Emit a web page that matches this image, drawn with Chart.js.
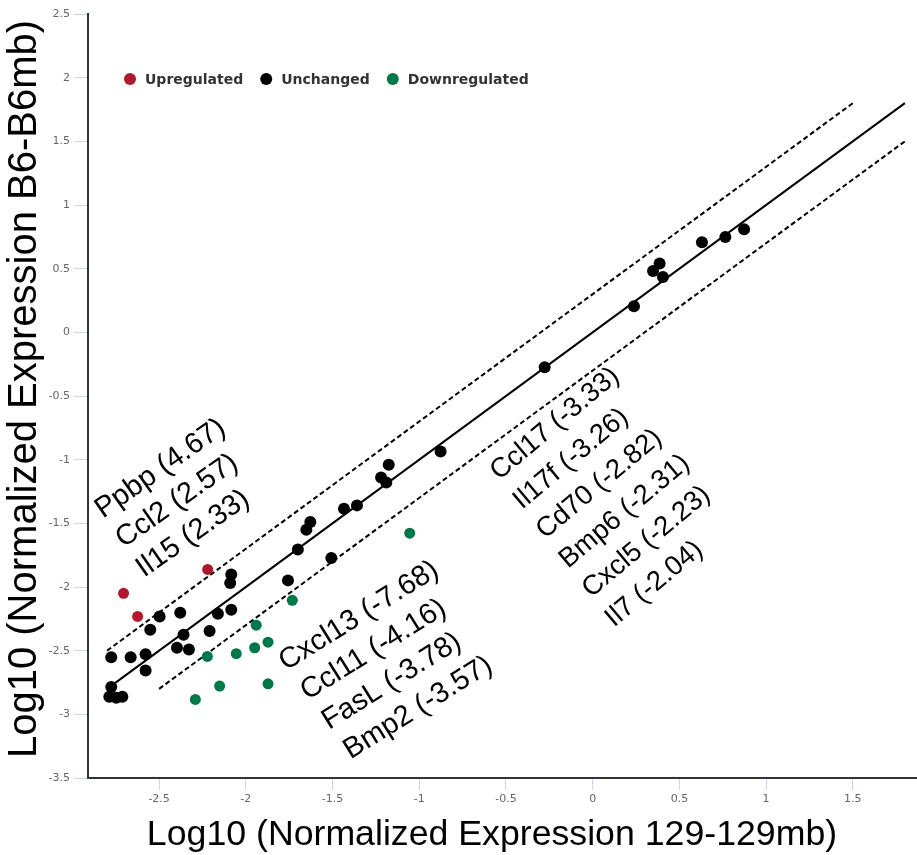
<!DOCTYPE html>
<html>
<head>
<meta charset="utf-8">
<title>Expression scatter</title>
<script src="https://cdn.jsdelivr.net/npm/chart.js@4.4.1/dist/chart.umd.min.js"></script>
<style>
  html, body { margin: 0; padding: 0; background: #fff; }
  canvas { display: block; }
</style>
</head>
<body>
<canvas id="exprChart" width="917" height="855"></canvas>
<script>
/* =========================
   Data (log10 normalized expression)
   x = 129-129mb, y = B6-B6mb
   ========================= */

const upX = [-2.705, -2.624, -2.220];
const upY = [-2.050, -2.231, -1.862];

const unchangedX = [-2.776, -2.664, -2.578, -2.578, -2.776, -2.787, -2.747, -2.712,
    -2.551, -2.497, -2.378, -2.359, -2.397, -2.328, -2.209, -2.161, -2.084, -2.090,
    -2.084, -1.757, -1.700, -1.651, -1.628, -1.507, -1.434, -1.359, -1.220, -1.190,
    -1.176, -0.877, -0.277, 0.238, 0.348, 0.386, 0.405, 0.630, 0.765, 0.873];
const unchangedY = [-2.551, -2.551, -2.529, -2.655, -2.786, -2.862, -2.870, -2.862,
    -2.336, -2.231, -2.202, -2.375, -2.477, -2.490, -2.346, -2.210, -2.178, -1.969,
    -1.901, -1.948, -1.705, -1.550, -1.490, -1.773, -1.385, -1.359, -1.140, -1.180,
    -1.040, -0.935, -0.275, 0.204, 0.482, 0.540, 0.435, 0.707, 0.749, 0.809];

const downX = [-1.055, -1.732, -1.940, -1.872, -1.949, -2.055, -2.222, -2.151, -1.872, -2.291];
const downY = [-1.577, -2.105, -2.300, -2.433, -2.477, -2.524, -2.545, -2.778, -2.760, -2.883];

// y = x identity line and the 2-fold (log10 2) bounds
const diagX = [-2.8, 1.8];
const diagY = [-2.8, 1.8];
const upperBoundX = [-2.8, 1.5];
const upperBoundY = [-2.5, 1.8];
const lowerBoundX = [-2.5, 1.8];
const lowerBoundY = [-2.8, 1.5];

const xTicks = [-2.5, -2, -1.5, -1, -0.5, 0, 0.5, 1, 1.5];
const yTicks = [-3.5, -3, -2.5, -2, -1.5, -1, -0.5, 0, 0.5, 1, 1.5, 2, 2.5];

const legendNames = ['Upregulated', 'Unchanged', 'Downregulated'];
const xTitle = 'Log10 (Normalized Expression 129-129mb)';
const yTitle = 'Log10 (Normalized Expression B6-B6mb)';

// fold changes written next to the plot
const upLabels = ['Ppbp (4.67)', 'Ccl2 (2.57)', 'Il15 (2.33)'];
const downLabelsA = ['Cxcl13 (-7.68)', 'Ccl11 (-4.16)', 'FasL (-3.78)', 'Bmp2 (-3.57)'];
const downLabelsB = ['Ccl17 (-3.33)', 'Il17f (-3.26)', 'Cd70 (-2.82)', 'Bmp6 (-2.31)', 'Cxcl5 (-2.23)', 'Il7 (-2.04)'];

/* =========================
   Helpers
   ========================= */

const RED = '#b2182b';
const BLACK = '#000000';
const GREEN = '#00784a';

function toPoints(xs, ys) {
    return xs.map((x, i) => ({ x: x, y: ys[i] }));
}

function lineSet(xs, ys, dashed) {
    return {
        type: 'line',
        data: toPoints(xs, ys),
        borderColor: '#000',
        borderWidth: 2,
        borderDash: dashed ? [5, 3] : [],
        pointRadius: 0,
        fill: false,
        order: 5
    };
}

// legend drawn inside the plot area, like the original
const innerLegend = {
    id: 'innerLegend',
    afterDraw(chart) {
        const ctx = chart.ctx;
        const colors = [RED, BLACK, GREEN];
        let x = chart.chartArea.left + 42;
        const y = chart.chartArea.top + 65;
        ctx.save();
        ctx.font = 'bold 14px "DejaVu Sans"';
        ctx.textBaseline = 'middle';
        legendNames.forEach((name, i) => {
            ctx.fillStyle = colors[i];
            ctx.beginPath();
            ctx.arc(x, y, 6, 0, Math.PI * 2);
            ctx.fill();
            ctx.fillStyle = '#333';
            ctx.fillText(name, x + 15, y + 1);
            x += 15 + ctx.measureText(name).width + 23;
        });
        ctx.restore();
    }
};

// big axis titles, placed a little off-centre as in the original figure
const axisTitles = {
    id: 'axisTitles',
    afterDraw(chart) {
        const ctx = chart.ctx;
        ctx.save();
        ctx.fillStyle = '#000';
        ctx.textAlign = 'center';
        ctx.textBaseline = 'middle';
        ctx.font = '35.7px "Liberation Sans"';
        ctx.fillText(xTitle, 492, 835);
        ctx.translate(25, 389);
        ctx.rotate(-Math.PI / 2);
        ctx.font = '40px "Liberation Sans"';
        ctx.fillText(yTitle, 0, 0);
        ctx.restore();
    }
};

// rotated gene labels, anchored in data coordinates
const geneLabels = {
    id: 'geneLabels',
    afterDatasetsDraw(chart) {
        const groups = [
            { lines: upLabels, x: -2.824, y: -1.464, angle: 35, size: 29, step: [20.6, 29.5] },
            { lines: downLabelsA, x: -1.768, y: -2.66, angle: 32, size: 29, step: [21.5, 29.5] },
            { lines: downLabelsB, x: -0.54, y: -1.165, angle: 40, size: 27.5, step: [23, 29.4] }
        ];
        const ctx = chart.ctx;
        ctx.save();
        ctx.fillStyle = '#000';
        ctx.textBaseline = 'alphabetic';
        groups.forEach(g => {
            const px = chart.scales.x.getPixelForValue(g.x);
            const py = chart.scales.y.getPixelForValue(g.y);
            ctx.font = g.size + 'px "Liberation Sans"';
            g.lines.forEach((t, i) => {
                ctx.save();
                ctx.translate(px + i * g.step[0], py + i * g.step[1]);
                ctx.rotate(-g.angle * Math.PI / 180);
                ctx.fillText(t, 0, 0);
                ctx.restore();
            });
        });
        ctx.restore();
    }
};

/* =========================
   Chart
   ========================= */

const tickFont = { family: 'DejaVu Sans', size: 11 };

new Chart(document.getElementById('exprChart'), {
    type: 'scatter',
    data: {
        datasets: [
            { label: legendNames[0], data: toPoints(upX, upY), backgroundColor: RED, pointRadius: 5.5, borderWidth: 0, order: 1 },
            { label: legendNames[1], data: toPoints(unchangedX, unchangedY), backgroundColor: BLACK, pointRadius: 6, borderWidth: 0, order: 1 },
            { label: legendNames[2], data: toPoints(downX, downY), backgroundColor: GREEN, pointRadius: 5.5, borderWidth: 0, order: 1 },
            lineSet(diagX, diagY, false),
            lineSet(upperBoundX, upperBoundY, true),
            lineSet(lowerBoundX, lowerBoundY, true)
        ]
    },
    options: {
        responsive: false,
        animation: false,
        layout: { autoPadding: false, padding: { top: 14, right: 0, left: 0, bottom: 0 } },
        plugins: {
            legend: { display: false },
            tooltip: { enabled: false }
        },
        scales: {
            x: {
                type: 'linear',
                min: -2.91,
                max: 1.87,
                afterBuildTicks: s => { s.ticks = xTicks.map(v => ({ value: v })); },
                afterFit: s => { s.height = 77; },
                grid: { drawOnChartArea: false, drawTicks: true, tickLength: 12, color: '#ccd6eb' },
                border: { display: true, color: '#333', width: 2 },
                ticks: { color: '#666', font: tickFont, padding: 3, maxRotation: 0, autoSkip: false, callback: v => String(v) },
                title: { display: false }
            },
            y: {
                type: 'linear',
                min: -3.5,
                max: 2.5,
                afterBuildTicks: s => { s.ticks = yTicks.map(v => ({ value: v })); },
                afterFit: s => { s.width = 88; },
                grid: { drawOnChartArea: false, drawTicks: true, tickLength: 14, color: '#ccd6eb' },
                border: { display: true, color: '#333', width: 2 },
                ticks: { color: '#666', font: tickFont, padding: 4, autoSkip: false, callback: v => String(v) },
                title: { display: false }
            }
        }
    },
    plugins: [innerLegend, axisTitles, geneLabels]
});
</script>
</body>
</html>
